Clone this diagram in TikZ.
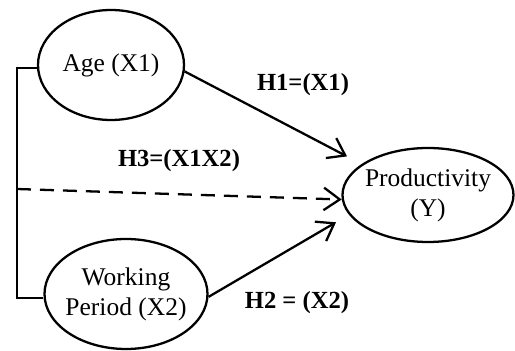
\documentclass[tikz,border=0pt]{standalone}
\usepackage{fontspec}
\setmainfont{Liberation Serif}
\usetikzlibrary{arrows.meta,shapes.geometric}

\begin{document}
\begin{tikzpicture}[
    var/.style={draw, ellipse, line width=1.3pt, inner sep=-2pt, align=center,
        font=\fontsize{14.5}{17}\selectfont},
    hyp/.style={font=\fontsize{14}{17}\selectfont\bfseries},
    link/.style={line width=1.3pt, -{Straight Barb[length=0.32cm,width=0.45cm,line width=1.3pt]}}
]
        \useasboundingbox (0,0) rectangle (10.3,7.02);
        \node[var, minimum width=2.92cm, minimum height=2.2cm] (age) at (2.22,5.72) {Age (X1)};
        \node[var, minimum width=3.26cm, minimum height=2.2cm] (work) at (2.52,1.14) {Working\\Period (X2)};
        \node[var, minimum width=3.42cm, minimum height=1.88cm] (prod) at (8.56,3.12) {Productivity\\(Y)};
        % bracket on the left
        \coordinate (top) at (0.34,5.66);
        \coordinate (bot) at (0.34,1.06);
        \coordinate (mid) at (0.34,3.24);
        \draw[line width=1.1pt] (age.west |- top) -- (top) -- (bot) -- (work.west |- bot);
        % hypotheses
        \draw[link, shorten >=0.33cm] (age.-5) -- (prod.155);
        \draw[link, shorten >=0.3cm] (work.-2) -- (prod.194);
        \draw[link, dashed, dash pattern=on 0.28cm off 0.18cm] (mid) -- (prod.183);
        \node[hyp] (h1) at (6.06,5.32) {H1=(X1)};
        \node[hyp] (h3) at (3.58,3.8) {H3=(X1X2)};
        \node[hyp] (h2) at (5.94,0.96) {H2 = (X2)};
    \end{tikzpicture}
\end{document}
